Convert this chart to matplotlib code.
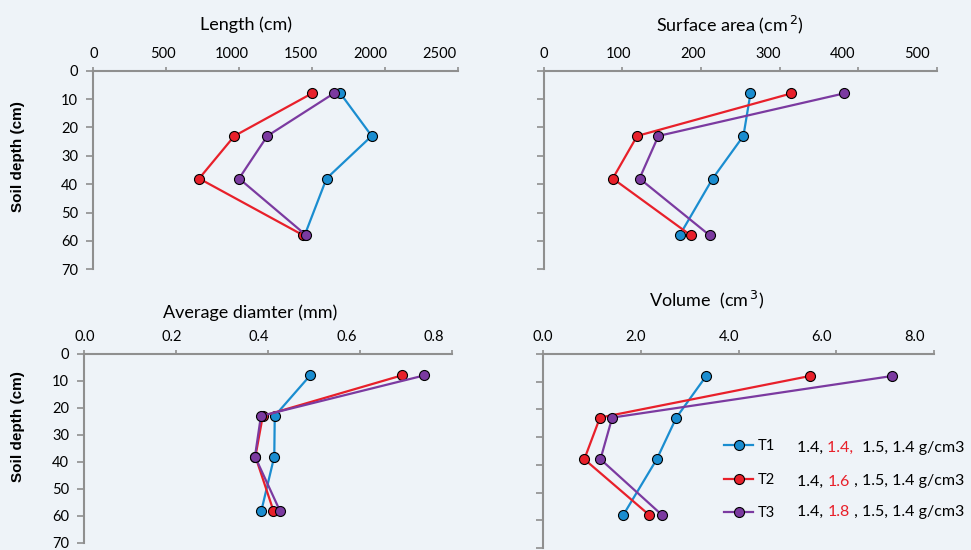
import matplotlib.pyplot as plt
import matplotlib.transforms as mtransforms
from matplotlib.lines import Line2D

# soil depth of each sampled layer (cm)
depth = [8, 23, 38, 58]

length_t1 = [1695, 1910, 1600, 1450]
length_t2 = [1500, 968, 726, 1440]
length_t3 = [1650, 1194, 1000, 1460]

area_t1 = [263, 254, 215, 173]
area_t2 = [315, 119, 88, 187]
area_t3 = [382, 146, 122, 211]

diam_t1 = [0.491, 0.414, 0.413, 0.385]
diam_t2 = [0.690, 0.388, 0.372, 0.411]
diam_t3 = [0.739, 0.384, 0.371, 0.425]

vol_t1 = [3.34, 2.73, 2.33, 1.65]
vol_t2 = [5.46, 1.17, 0.85, 2.17]
vol_t3 = [7.14, 1.42, 1.18, 2.43]

treatments = ['T1', 'T2', 'T3']
density_rows = [
    ['1.4, ', '1.4, ', ' 1.5, 1.4 g/cm3'],
    ['1.4, ', '1.6', ' , 1.5, 1.4 g/cm3'],
    ['1.4, ', '1.8', ' , 1.5, 1.4 g/cm3'],
]

length_ticks = [0, 500, 1000, 1500, 2000, 2500]
area_ticks = [0, 100, 200, 300, 400, 500]
diam_ticks = [0.0, 0.2, 0.4, 0.6, 0.8]
vol_ticks = [0.0, 2.0, 4.0, 6.0, 8.0]
depth_ticks = [0, 10, 20, 30, 40, 50, 60, 70]

colors = ['#1a8dd0', '#e8202a', '#7b3aa0']
axis_gray = '#8f8f8f'
bg = '#eef3f8'

plt.rcParams['font.family'] = ['Lato', 'DejaVu Sans']

W, H = 971, 550
fig = plt.figure(figsize=(W / 100, H / 100), dpi=100, facecolor=bg)


def px_axes(left, right, top, bottom):
    return fig.add_axes([left / W, (H - bottom) / H, (right - left) / W, (bottom - top) / H])


def style_axes(ax, xticks, fmt, ylabels):
    ax.set_facecolor('none')
    ax.set_ylim(70, 0)
    ax.set_xlim(xticks[0], xticks[-1])
    ax.xaxis.tick_top()
    for s in ['right', 'bottom']:
        ax.spines[s].set_visible(False)
    for s in ['top', 'left']:
        ax.spines[s].set_color(axis_gray)
        ax.spines[s].set_linewidth(1.5)
    ax.set_xticks(xticks)
    ax.set_xticklabels([fmt.format(t) for t in xticks])
    ax.set_yticks(depth_ticks)
    if ylabels:
        ax.set_yticklabels([str(t) for t in depth_ticks])
    else:
        ax.set_yticklabels([])
    ax.tick_params(axis='x', direction='out', length=3, width=1.2, color=axis_gray,
                   labelsize=10.5, pad=4)
    ax.tick_params(axis='y', direction='out', length=5, width=1.2, color=axis_gray,
                   labelsize=10.5, pad=6)
    # labels sit a bit left of their ticks in the original
    span = xticks[-1] - xticks[0]
    axw = ax.get_position().width * W
    for t, lab in zip(xticks, ax.get_xticklabels()):
        dx = -0.05 * (t - xticks[0]) / span * axw
        lab.set_transform(lab.get_transform() + mtransforms.ScaledTranslation(dx / 100, 0, fig.dpi_scale_trans))


def draw(ax, series):
    for vals, c in zip(series, colors):
        ax.plot(vals, depth, color=c, lw=1.6, marker='o', ms=7.2,
                mec='black', mew=0.8, mfc=c, zorder=3)


ax1 = px_axes(93.3, 457.7, 70.7, 269.3)
style_axes(ax1, length_ticks, '{:d}', True)
draw(ax1, [length_t1, length_t2, length_t3])

ax2 = px_axes(543.5, 937, 70.7, 269.3)
style_axes(ax2, area_ticks, '{:d}', False)
draw(ax2, [area_t1, area_t2, area_t3])

ax3 = px_axes(84.3, 452.3, 353.8, 543)
style_axes(ax3, diam_ticks, '{:.1f}', True)
draw(ax3, [diam_t1, diam_t2, diam_t3])

ax4 = px_axes(542.7, 934.3, 353.8, 548)
style_axes(ax4, vol_ticks, '{:.1f}', False)
draw(ax4, [vol_t1, vol_t2, vol_t3])

# panel titles
fig.text(246 / W, 1 - 25 / H, 'Length (cm)', ha='center', va='center', fontsize=13)
fig.text(730 / W, 1 - 25 / H, 'Surface area (cm$^{\\,2}$)', ha='center', va='center', fontsize=13)
fig.text(250 / W, 1 - 313 / H, 'Average diamter (mm)', ha='center', va='center', fontsize=13)
fig.text(707 / W, 1 - 300 / H, 'Volume  (cm$^{\\,3}$)', ha='center', va='center', fontsize=13)

for yc in [157, 427]:
    fig.text(18 / W, 1 - yc / H, 'Soil depth (cm)', rotation=90, ha='center', va='center',
             fontsize=11, fontweight='bold', family=['Liberation Sans', 'DejaVu Sans'])

# legend
handles = [Line2D([], [], color=c, lw=1.6, marker='o', ms=7.2, mec='black', mew=0.8)
           for c in colors]
fig.legend(handles, treatments, loc='upper left', bbox_to_anchor=(724 / W, 1 - 439 / H),
           frameon=False, fontsize=10.5, handlelength=2.0, handletextpad=0.3,
           labelspacing=1.35, borderpad=0, borderaxespad=0)

# bulk density notes, with the changed layer in red
row_y = [448, 481.5, 512]
for yc, parts in zip(row_y, density_rows):
    t = fig.text(797 / W, 1 - yc / H, parts[0], ha='left', va='center', fontsize=11.5, color='black')
    t2 = plt.annotate(parts[1], xy=(1, 0.5), xycoords=t, ha='left', va='center',
                      fontsize=11.5, color=colors[1], annotation_clip=False)
    plt.annotate(parts[2], xy=(1, 0.5), xycoords=t2, ha='left', va='center',
                 fontsize=11.5, color='black', annotation_clip=False)

fig.savefig('out.png', dpi=100, facecolor=bg)
